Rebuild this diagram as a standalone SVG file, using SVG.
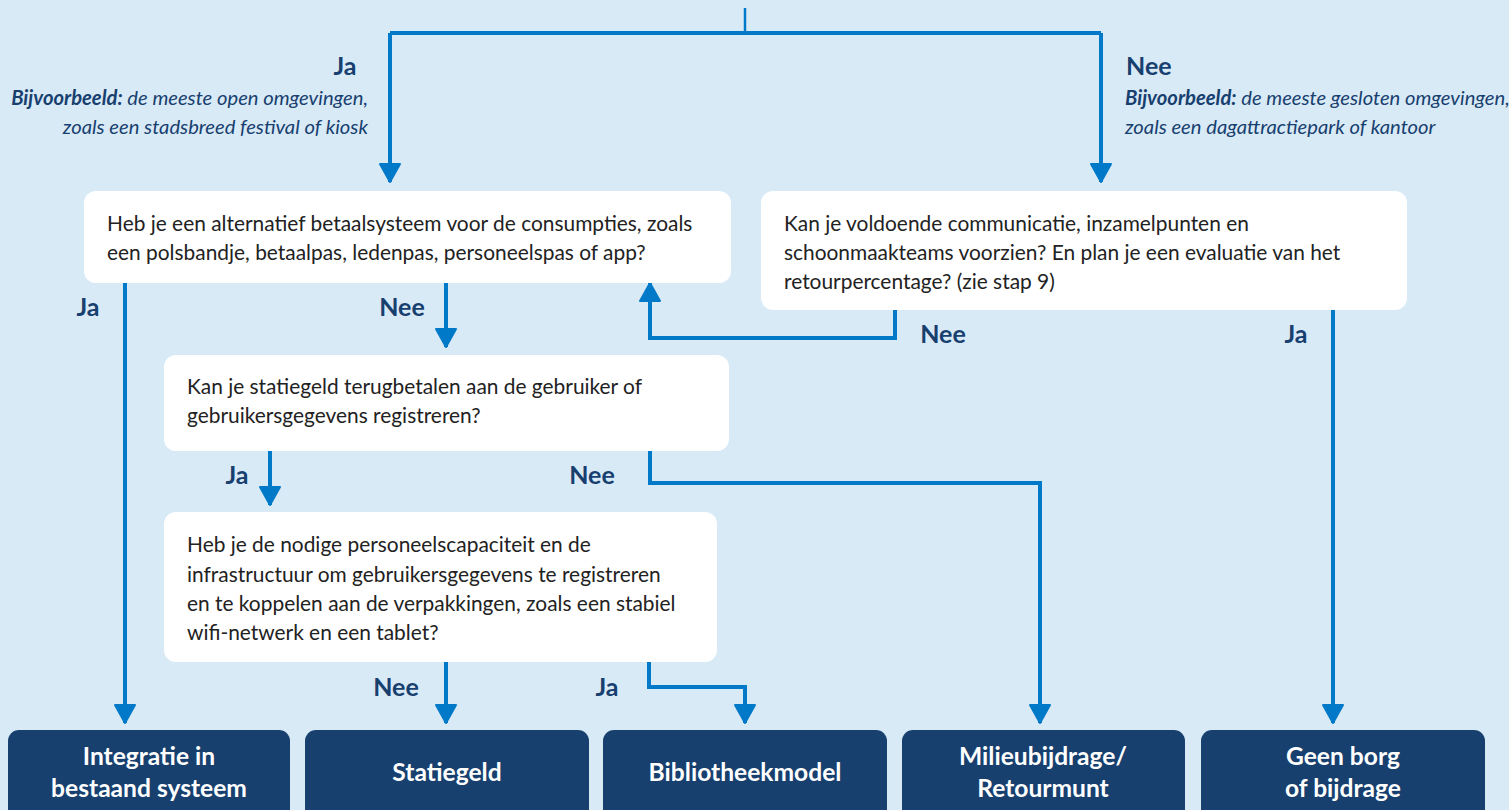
<svg xmlns="http://www.w3.org/2000/svg" width="1509" height="810" viewBox="0 0 1509 810">
<defs>
<style>
.bg{fill:#d9eaf7}
.q{fill:#ffffff}
.qt{font-family:Lato,"Open Sans",sans-serif;font-size:20.9px;fill:#222222}
.lbl{font-family:Lato,"Open Sans",sans-serif;font-size:25px;font-weight:700;fill:#17406f}
.ex{font-family:Lato,"Open Sans",sans-serif;font-size:20.2px;font-style:italic;fill:#17406f}
.exb{font-weight:700}
.res{fill:#17406f}
.rt{font-family:Lato,"Open Sans",sans-serif;font-size:24.6px;font-weight:700;fill:#ffffff;text-anchor:middle}
.c{fill:none;stroke:#0079c8;stroke-width:4;marker-end:url(#ah)}
.cn{fill:none;stroke:#0079c8;stroke-width:4}
</style>
<marker id="ah" viewBox="0 0 20 22" refX="19" refY="11" markerWidth="20" markerHeight="22" markerUnits="userSpaceOnUse" orient="auto">
<path d="M1,1 L19,11 L1,21 z" fill="#0079c8" stroke="#0079c8" stroke-width="2" stroke-linejoin="round"/>
</marker>
</defs>
<rect class="bg" x="0" y="0" width="1509" height="810"/>

<g id="connectors">
<path class="cn" style="stroke-width:2.5" d="M745,8 V33"/>
<path class="cn" d="M390,33 H1101"/>
<path class="c" d="M390,33 V182"/>
<path class="c" d="M1101,33 V182"/>
<path class="c" d="M125,283 V723"/>
<path class="c" d="M446,283 V347"/>
<path class="c" d="M895,310 V338 H650 V283"/>
<path class="c" d="M1333,310 V723"/>
<path class="c" d="M270,451 V505"/>
<path class="c" d="M650,451 V483 H1040 V723"/>
<path class="c" d="M446,662 V723"/>
<path class="c" d="M649,662 V687 H745 V723"/>
</g>

<g id="labels">
<text class="lbl" x="345" y="75" text-anchor="middle">Ja</text>
<text class="ex" x="368" y="105" text-anchor="end"><tspan class="exb">Bijvoorbeeld:</tspan> de meeste open omgevingen,</text>
<text class="ex" x="368" y="134" text-anchor="end">zoals een stadsbreed festival of kiosk</text>
<text class="lbl" x="1126" y="75">Nee</text>
<text class="ex" x="1125" y="105"><tspan class="exb">Bijvoorbeeld:</tspan> de meeste gesloten omgevingen,</text>
<text class="ex" x="1125" y="134">zoals een dagattractiepark of kantoor</text>
<text class="lbl" x="88" y="316" text-anchor="middle">Ja</text>
<text class="lbl" x="402" y="316" text-anchor="middle">Nee</text>
<text class="lbl" x="943" y="343" text-anchor="middle">Nee</text>
<text class="lbl" x="1296" y="343" text-anchor="middle">Ja</text>
<text class="lbl" x="237" y="484" text-anchor="middle">Ja</text>
<text class="lbl" x="592" y="484" text-anchor="middle">Nee</text>
<text class="lbl" x="396" y="696" text-anchor="middle">Nee</text>
<text class="lbl" x="607" y="696" text-anchor="middle">Ja</text>
</g>

<g id="q1">
<rect class="q" x="84" y="191" width="647" height="92" rx="12"/>
<text class="qt" x="107" y="231">Heb je een alternatief betaalsysteem voor de consumpties, zoals</text>
<text class="qt" x="107" y="260">een polsbandje, betaalpas, ledenpas, personeelspas of app?</text>
</g>
<g id="q2">
<rect class="q" x="761" y="191" width="646" height="119" rx="12"/>
<text class="qt" x="784" y="231">Kan je voldoende communicatie, inzamelpunten en</text>
<text class="qt" x="784" y="260">schoonmaakteams voorzien? En plan je een evaluatie van het</text>
<text class="qt" x="784" y="289">retourpercentage? (zie stap 9)</text>
</g>
<g id="q3">
<rect class="q" x="164" y="355" width="565" height="96" rx="12"/>
<text class="qt" x="187" y="394">Kan je statiegeld terugbetalen aan de gebruiker of</text>
<text class="qt" x="187" y="423">gebruikersgegevens registreren?</text>
</g>
<g id="q4">
<rect class="q" x="164" y="512" width="553" height="150" rx="12"/>
<text class="qt" x="187" y="552">Heb je de nodige personeelscapaciteit en de</text>
<text class="qt" x="187" y="582">infrastructuur om gebruikersgegevens te registreren</text>
<text class="qt" x="187" y="611">en te koppelen aan de verpakkingen, zoals een stabiel</text>
<text class="qt" x="187" y="640">wifi-netwerk en een tablet?</text>
</g>

<g id="r1">
<rect class="res" x="8" y="730" width="282" height="100" rx="11"/>
<text class="rt" x="149" y="765">Integratie in</text>
<text class="rt" x="149" y="797">bestaand systeem</text>
</g>
<g id="r2">
<rect class="res" x="305" y="730" width="284" height="100" rx="11"/>
<text class="rt" x="447" y="781">Statiegeld</text>
</g>
<g id="r3">
<rect class="res" x="603" y="730" width="284" height="100" rx="11"/>
<text class="rt" x="745" y="781">Bibliotheekmodel</text>
</g>
<g id="r4">
<rect class="res" x="902" y="730" width="283" height="100" rx="11"/>
<text class="rt" x="1043" y="765">Milieubijdrage/</text>
<text class="rt" x="1043" y="797">Retourmunt</text>
</g>
<g id="r5">
<rect class="res" x="1201" y="730" width="284" height="100" rx="11"/>
<text class="rt" x="1343" y="765">Geen borg</text>
<text class="rt" x="1343" y="797">of bijdrage</text>
</g>
</svg>
